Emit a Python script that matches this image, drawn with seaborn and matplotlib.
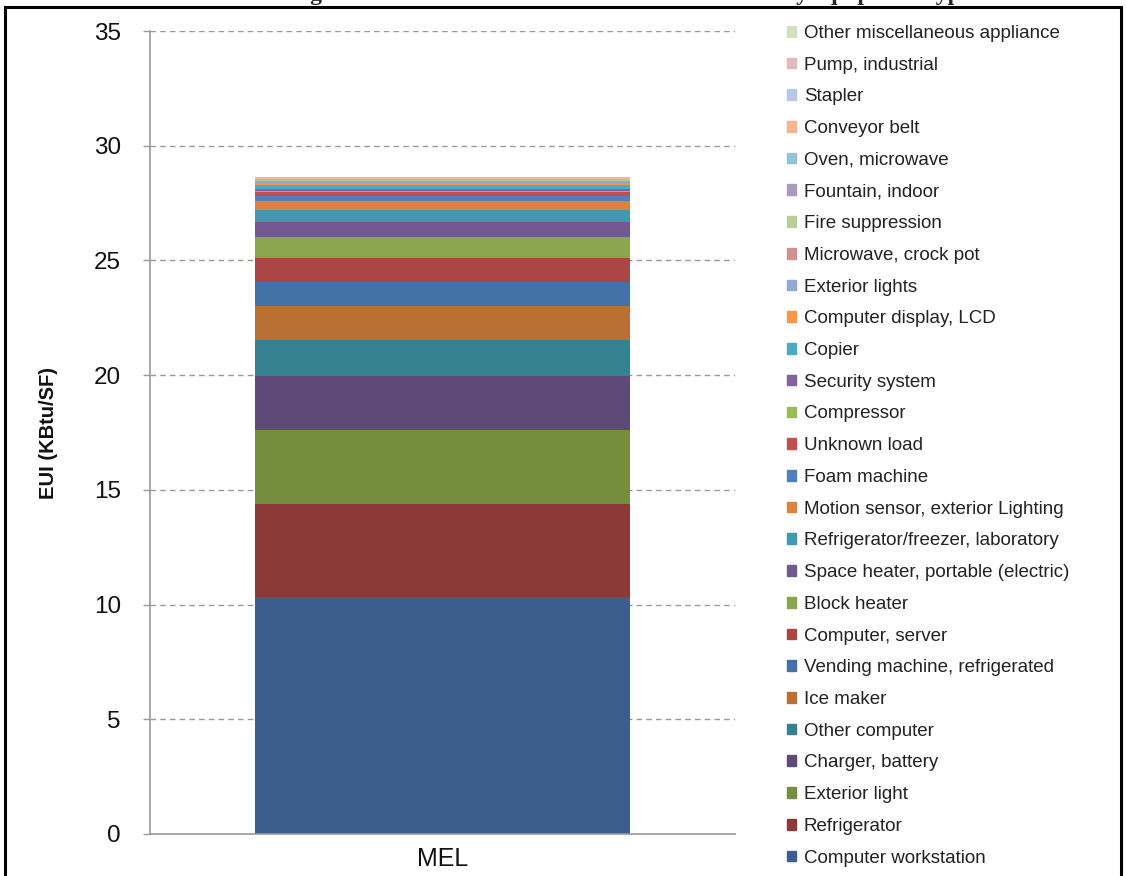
import matplotlib
matplotlib.use("Agg")
import matplotlib.pyplot as plt
import matplotlib.patches as mpatches
import seaborn as sns

# ---- data (bottom to top of the stack) ----
categories = [
    "Computer workstation", "Refrigerator", "Exterior light", "Charger, battery",
    "Other computer", "Ice maker", "Vending machine, refrigerated", "Computer, server",
    "Block heater", "Space heater, portable (electric)", "Refrigerator/freezer, laboratory",
    "Motion sensor, exterior Lighting", "Foam machine", "Unknown load", "Compressor",
    "Security system", "Copier", "Computer display, LCD", "Exterior lights",
    "Microwave, crock pot", "Fire suppression", "Fountain, indoor", "Oven, microwave",
    "Conveyor belt", "Stapler", "Pump, industrial", "Other miscellaneous appliance",
]
values = [
    10.32, 4.05, 3.24, 2.37,
    1.53, 1.51, 1.02, 1.06,
    0.92, 0.65, 0.54,
    0.39, 0.22, 0.145, 0.07,
    0.09, 0.145, 0.07, 0.07,
    0.04, 0.035, 0.03, 0.03,
    0.03, 0.025, 0.025, 0.025,
]
colors = [
    "#3B5E8C", "#8B3A38", "#758D3F", "#5E4A77", "#36818F", "#B87033",
    "#4472A6", "#AA4643", "#89A54E", "#71588F", "#4198AF", "#DB843D",
    "#4F81BD", "#C0504D", "#9BBB59", "#8064A2", "#4BACC6", "#F79646",
    "#93A9CF", "#D19392", "#B9CD96", "#A99BBD", "#91C3D5", "#F9B590",
    "#B9C7E3", "#E3BAB9", "#D3E0BE",
]
x_label = ["MEL"]
y_ticks = [0, 5, 10, 15, 20, 25, 30, 35]
y_title = "EUI (KBtu/SF)"
title = "Figure 6: Miscellaneous electric load breakdown by equipment type"

sns.set_theme(style="white")
plt.rcParams["font.family"] = ["Liberation Sans", "DejaVu Sans"]

fig = plt.figure(figsize=(11.26, 8.76), dpi=100)
ax = fig.add_axes([150 / 1126, 1 - 834 / 876, 585 / 1126, 803 / 876])

cum = 0.0
for cat, val, col in zip(categories, values, colors):
    sns.barplot(x=x_label, y=[val], bottom=[cum], color=col, saturation=1,
                width=0.64, linewidth=0, ax=ax, legend=False)
    cum += val

ax.set_xlim(-0.5, 0.5)
ax.set_ylim(0, 35)
ax.set_yticks(y_ticks)
ax.set_yticklabels([str(t) for t in y_ticks], fontsize=17.5, color="#111111")
ax.tick_params(axis="y", length=5, width=1, color="#999999", direction="out", pad=16, left=True)
ax.tick_params(axis="x", length=0, pad=9)
ax.set_xticks([0])
ax.set_xticklabels(x_label, fontsize=18, color="#111111")
ax.set_xlabel("")
ax.set_ylabel(y_title, fontsize=14.5, fontweight="bold", labelpad=26, color="#111111")
for y in y_ticks[1:]:
    ax.axhline(y, color="#999999", linestyle=(0, (4, 3)), linewidth=1, zorder=0)
for s in ["top", "right"]:
    ax.spines[s].set_visible(False)
for s in ["left", "bottom"]:
    ax.spines[s].set_color("#999999")
    ax.spines[s].set_linewidth(1.2)
ax.set_axisbelow(True)
if ax.get_legend() is not None:
    ax.get_legend().remove()

# legend (top to bottom = reversed stack)
handles = [mpatches.Patch(color=c, label=l) for l, c in zip(categories, colors)][::-1]
fig.legend(handles=handles, loc="upper left", bbox_to_anchor=(770 / 1126, 1 - 8 / 876),
           frameon=False, fontsize=13.5, handlelength=0.5, handleheight=0.5,
           handletextpad=0.4, labelspacing=0.785, labelcolor="#222222")

# clipped title at the top edge
fig.text(0.56, 1.0, title, ha="center", va="baseline", fontsize=17, fontweight="bold",
         family=["Liberation Serif", "DejaVu Serif"])

# page frame
frame = mpatches.Rectangle((5 / 1126, -0.05), 1116 / 1126, 1 - 7 / 876 + 0.05,
                           transform=fig.transFigure, fill=False, edgecolor="black",
                           linewidth=2.2)
fig.add_artist(frame)

fig.savefig("out.png", dpi=100)
